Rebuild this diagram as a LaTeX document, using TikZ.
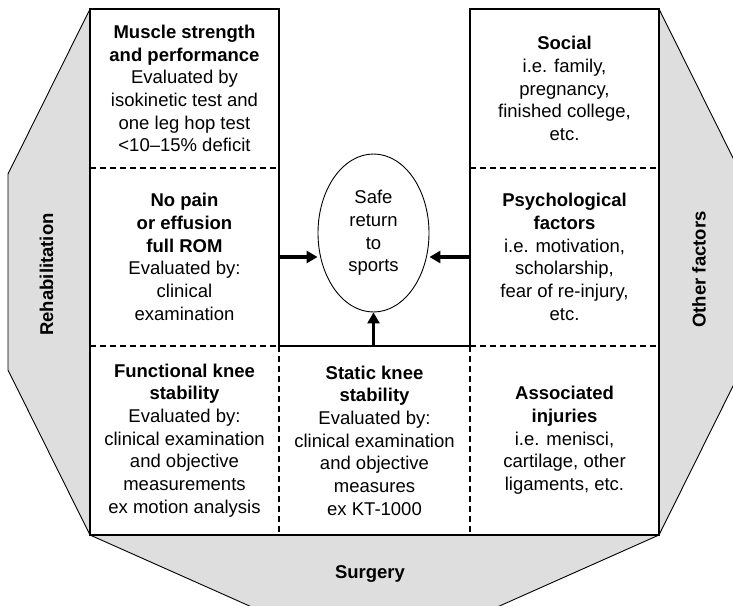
\documentclass[tikz,border=0pt]{standalone}
\usepackage{fontspec}
\setmainfont{Liberation Sans}
\usetikzlibrary{arrows.meta,shapes.geometric}
\definecolor{panelgray}{HTML}{DEDEDE}
\tikzset{
  cell/.style={draw=none,inner sep=0pt,align=center,font=\fontsize{18.5}{22.7}\selectfont},
  panel/.style={fill=panelgray,draw=black,line width=0.9pt,line join=round},
  panellabel/.style={inner sep=0pt,font=\fontsize{18.5}{22.7}\selectfont\bfseries},
  solidline/.style={line width=1.2pt},
  dashline/.style={line width=1.1pt,dash pattern=on 6pt off 4pt},
  bigarrow/.style={line width=3.8pt,-{Triangle[length=11pt,width=12pt]}},
  goal/.style={ellipse,draw,line width=0.9pt,minimum width=111pt,minimum height=158pt,inner sep=0pt,align=center,font=\fontsize{18.5}{22.7}\selectfont}
}
\begin{document}
\begin{tikzpicture}[x=1pt,y=-1pt]
\useasboundingbox (0,0) rectangle (733,605);
\begin{scope}
\clip (0,0) rectangle (733,605);
% side panels
\path[panel] (90,9) -- (8,174) -- (8,370) -- (90,535) -- cycle;
\path[panel] (659,9) -- (741,174) -- (741,370) -- (659,535) -- cycle;
\path[panel] (90,535) -- (263,612) -- (486,612) -- (659,535) -- cycle;
\end{scope}
% panel labels
\node[panellabel,rotate=90] (rehab) at (46.5,274.5) {Rehabilitation};
\node[panellabel,rotate=90] (other) at (699,269.5) {Other factors};
\node[panellabel] (surgery) at (370,574) {Surgery};
% grid
\draw[solidline] (279,346) -- (279,9) -- (90,9) -- (90,535) -- (659,535) -- (659,9) -- (470,9) -- (470,346);
\draw[solidline] (279,346) -- (470,346);
\draw[dashline] (90,168) -- (279,168);
\draw[dashline] (470,168) -- (659,168);
\draw[dashline] (90,346) -- (279,346);
\draw[dashline] (470,346) -- (659,346);
\draw[dashline] (279,346) -- (279,535);
\draw[dashline] (470,346) -- (470,535);
% cells
\node[cell,minimum width=189pt,minimum height=159pt] (tl) at (184.5,88.5)
  {\textbf{Muscle strength}\\\textbf{and performance}\\Evaluated by\\isokinetic test and\\one leg hop test\\<10--15\% deficit};
\node[cell,minimum width=189pt,minimum height=178pt] (ml) at (184.5,257)
  {\textbf{No pain}\\\textbf{or effusion}\\\textbf{full ROM}\\Evaluated by:\\clinical\\examination};
\node[cell,minimum width=189pt,minimum height=189pt] (bl) at (184.5,440.5)
  {\textbf{Functional knee}\\\textbf{stability}\\Evaluated by:\\clinical examination\\and objective\\measurements\\ex motion analysis};
\node[cell,minimum width=191pt,minimum height=189pt] (bc) at (374.5,440.5)
  {\textbf{Static knee}\\\textbf{stability}\\Evaluated by:\\clinical examination\\and objective\\measures\\ex KT-1000};
\node[cell,minimum width=189pt,minimum height=159pt] (tr) at (564.5,88.5)
  {\textbf{Social}\\i.e. family,\\pregnancy,\\finished college,\\etc.};
\node[cell,minimum width=189pt,minimum height=178pt] (mr) at (564.5,257)
  {\textbf{Psychological}\\\textbf{factors}\\i.e. motivation,\\scholarship,\\fear of re-injury,\\etc.};
\node[cell,minimum width=189pt,minimum height=189pt] (br) at (564.5,440.5)
  {\textbf{Associated}\\\textbf{injuries}\\i.e. menisci,\\cartilage, other\\ligaments, etc.};
% goal
\node[goal] (goal) at (373.5,233) {Safe\\return\\to\\sports};
% arrows
\draw[bigarrow] (ml.east) -- (goal.west |- ml.east);
\draw[bigarrow] (mr.west) -- (goal.east |- mr.west);
\draw[bigarrow] (bc.north -| goal.south) -- (goal.south);
\end{tikzpicture}
\end{document}
